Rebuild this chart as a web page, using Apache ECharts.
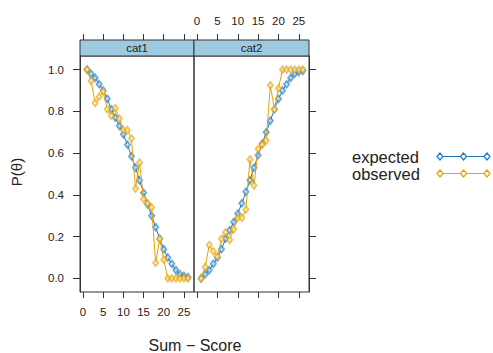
<!DOCTYPE html>
<html>
<head>
<meta charset="utf-8">
<script src="https://cdn.jsdelivr.net/npm/echarts@6/dist/echarts.min.js"></script>
<style>
  html, body { margin: 0; padding: 0; background: #fff; }
  #chart { width: 493px; height: 353px; }
</style>
</head>
<body>
<div id="chart"></div>
<script>
// sum scores on the x axis
var scores = [1,2,3,4,5,6,7,8,9,10,11,12,13,14,15,16,17,18,19,20,21,22,23,24,25,26];
var panels = ['cat1', 'cat2'];
var xTicks = [0, 5, 10, 15, 20, 25];
var yTicks = [0, 0.2, 0.4, 0.6, 0.8, 1.0];

// cat1
var expected1 = [1.0,0.98,0.96,0.93,0.90,0.86,0.81,0.77,0.73,0.69,0.64,0.585,0.53,0.47,0.41,0.355,0.30,0.245,0.19,0.14,0.10,0.07,0.04,0.02,0.012,0.006];
var observed1 = [1.0,0.945,0.84,0.87,0.895,0.81,0.78,0.815,0.765,0.71,0.71,0.67,0.43,0.555,0.38,0.36,0.34,0.075,0.19,0.09,0,0,0,0,0,0];
// cat2
var expected2 = [0,0.02,0.04,0.07,0.10,0.14,0.19,0.23,0.27,0.31,0.36,0.415,0.47,0.53,0.59,0.645,0.70,0.755,0.81,0.86,0.90,0.93,0.96,0.98,0.988,0.994];
var observed2 = [0,0.055,0.16,0.13,0.105,0.19,0.22,0.185,0.235,0.29,0.29,0.33,0.57,0.445,0.62,0.64,0.66,0.925,0.81,0.91,1,1,1,1,1,1];

var blue = '#1f7bbf', orange = '#eaa300';
var font = 'Liberation Sans, Arial, sans-serif';
// legend key: line with three hollow diamonds
var keyIcon = 'path://M0 3.5L3 0L6 3.5L3 7ZM6 3.5L23.5 3.5M23.5 3.5L26.5 0L29.5 3.5L26.5 7ZM29.5 3.5L47 3.5M47 3.5L50 0L53 3.5L50 7Z';

function pairs(ys) {
  return scores.map(function (x, i) { return [x, ys[i]]; });
}

function xAx(grid, pos, labels, offset, margin) {
  return {
    type: 'value', gridIndex: grid, position: pos, offset: offset || 0,
    min: -0.75, max: 27.5,
    splitLine: { show: false },
    axisLine: { show: false, onZero: false },
    axisTick: { show: true, length: 6, customValues: xTicks, lineStyle: { color: '#333' } },
    axisLabel: { show: labels, customValues: xTicks, margin: margin, color: '#222', fontSize: 11.5, fontFamily: font }
  };
}
function yAx(grid, pos, labels) {
  return {
    type: 'value', gridIndex: grid, position: pos,
    min: -0.065, max: 1.065,
    splitLine: { show: false },
    axisLine: { show: true, onZero: false, lineStyle: { color: '#333', width: 1 } },
    axisTick: { show: true, length: 7, customValues: yTicks, lineStyle: { color: '#333' } },
    axisLabel: { show: labels, customValues: yTicks, margin: 16, color: '#222', fontSize: 11.5, fontFamily: font,
      formatter: function (v) { return v.toFixed(1); } }
  };
}
function line(name, grid, ys, color, z) {
  return {
    name: name, type: 'line', xAxisIndex: grid, yAxisIndex: grid, z: z,
    data: pairs(ys),
    symbol: 'emptyDiamond', symbolSize: [5, 6.5],
    lineStyle: { color: color, width: 1 },
    itemStyle: { color: color, borderColor: color, borderWidth: 1, opacity: 0.65 },
    animation: false
  };
}

var chart = echarts.init(document.getElementById('chart'), null, { renderer: 'svg' });
chart.setOption({
  animation: false,
  grid: [
    { left: 80, top: 56, width: 114, height: 236, show: true, borderColor: '#333', borderWidth: 1, backgroundColor: 'transparent' },
    { left: 194, top: 56, width: 115, height: 236, show: true, borderColor: '#333', borderWidth: 1, backgroundColor: 'transparent' }
  ],
  xAxis: [
    xAx(0, 'bottom', true, 0, 14), xAx(1, 'bottom', false, 0, 14),
    xAx(0, 'top', false, 16, 13), xAx(1, 'top', true, 16, 13)
  ],
  yAxis: [yAx(0, 'left', true), yAx(1, 'right', false)],
  legend: {
    orient: 'vertical', left: 352, top: 148, padding: 0, itemGap: 0, align: 'right',
    itemWidth: 53, itemHeight: 7, icon: keyIcon,
    itemStyle: { color: 'transparent', borderColor: 'inherit', borderWidth: 1.2, opacity: 1 },
    formatter: '{a|{name}}',
    textStyle: { fontSize: 16.5, color: '#222', fontFamily: font, lineHeight: 17,
      rich: { a: { width: 80, align: 'left', fontSize: 16.5, lineHeight: 17, fontFamily: font, color: '#222' } } },
    data: ['expected', 'observed']
  },
  graphic: [
    { type: 'rect', shape: { x: 80, y: 40, width: 114, height: 16 }, style: { fill: '#9ecae1', stroke: '#333', lineWidth: 1 } },
    { type: 'rect', shape: { x: 194, y: 40, width: 115, height: 16 }, style: { fill: '#9ecae1', stroke: '#333', lineWidth: 1 } },
    { type: 'text', x: 137, y: 48, style: { text: panels[0], fill: '#222', font: '11.5px ' + font, align: 'center', verticalAlign: 'middle' } },
    { type: 'text', x: 251.5, y: 48, style: { text: panels[1], fill: '#222', font: '11.5px ' + font, align: 'center', verticalAlign: 'middle' } },
    { type: 'text', x: 195, y: 345, style: { text: 'Sum \u2212 Score', fill: '#222', font: '16px ' + font, align: 'center', verticalAlign: 'middle' } },
    { type: 'text', x: 16, y: 172, rotation: Math.PI / 2, style: { text: 'P(\u03b8)', fill: '#222', font: '15px ' + font, align: 'center', verticalAlign: 'middle' } }
  ],
  series: [
    line('expected', 0, expected1, blue, 2),
    line('observed', 0, observed1, orange, 3),
    line('expected', 1, expected2, blue, 2),
    line('observed', 1, observed2, orange, 3)
  ]
});
</script>
</body>
</html>
